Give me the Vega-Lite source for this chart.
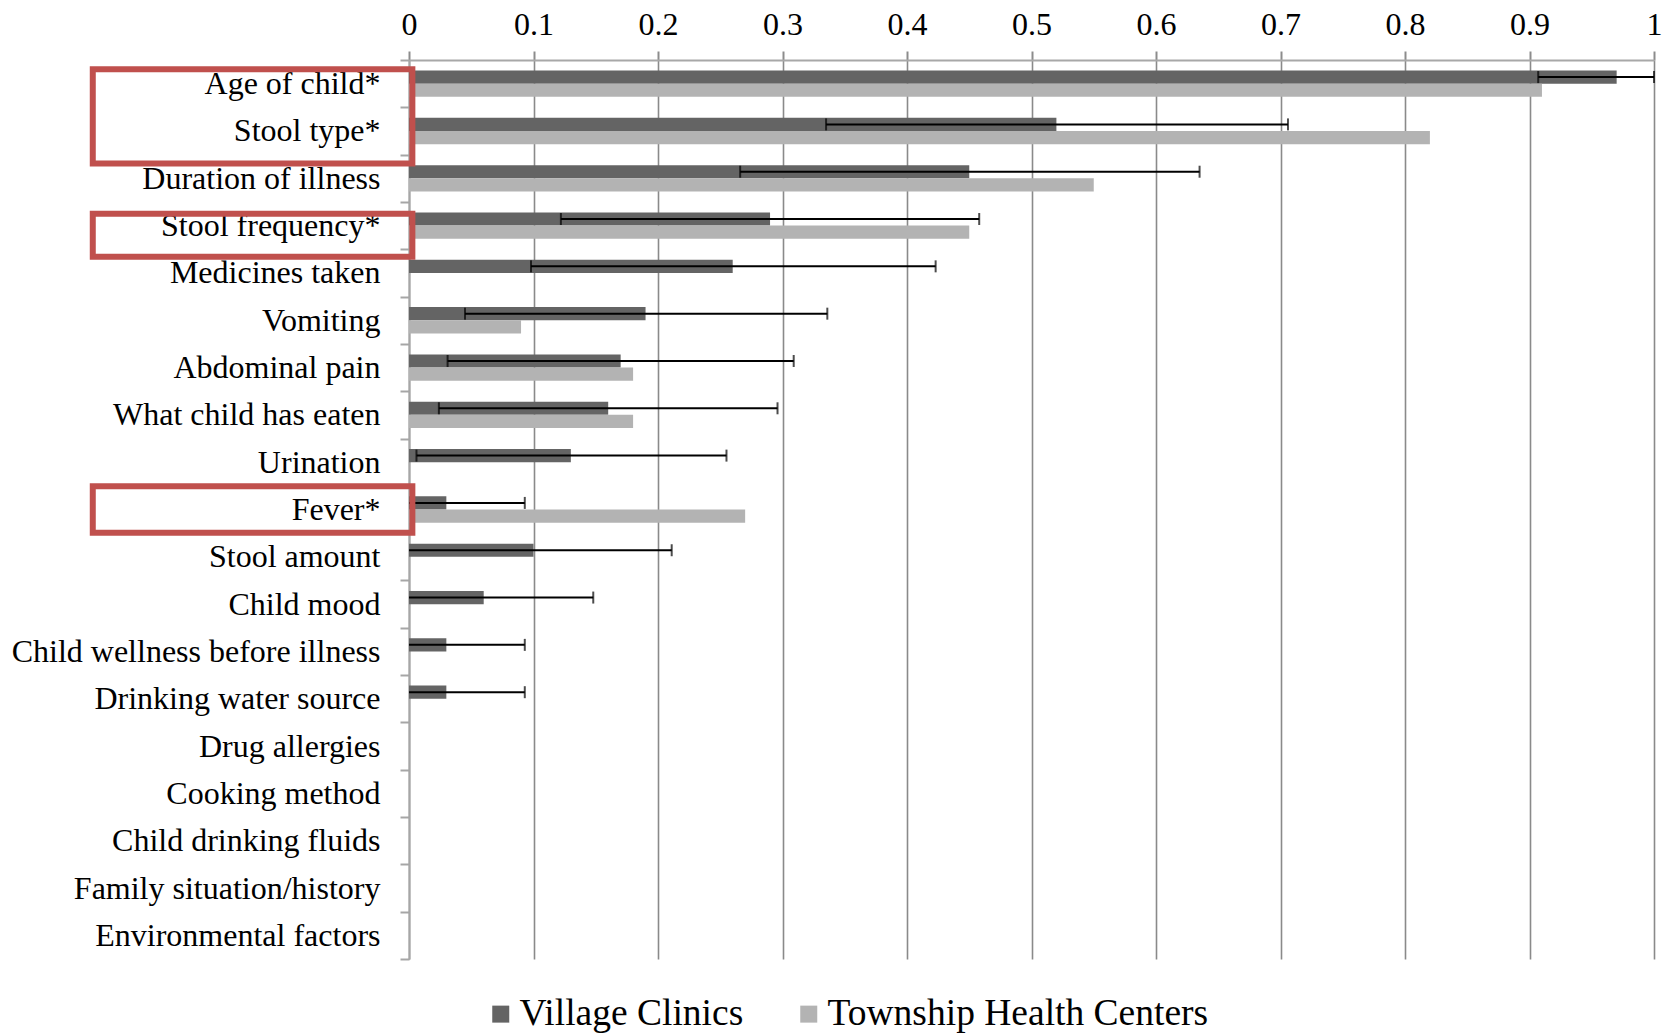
{
  "$schema": "https://vega.github.io/schema/vega-lite/v6.json",
  "width": 1245,
  "height": 899,
  "autosize": {"type": "none"},
  "padding": {"left": 409, "top": 60, "right": 19, "bottom": 75},
  "config": {"font": "Liberation Serif", "view": {"stroke": null}},
  "datasets": {
    "bars": [
      {"cat": "Age of child*", "series": "Village Clinics", "value": 0.97, "lo": 0.907, "hi": 1.0},
      {"cat": "Stool type*", "series": "Village Clinics", "value": 0.52, "lo": 0.335, "hi": 0.706},
      {"cat": "Duration of illness", "series": "Village Clinics", "value": 0.45, "lo": 0.266, "hi": 0.635},
      {"cat": "Stool frequency*", "series": "Village Clinics", "value": 0.29, "lo": 0.122, "hi": 0.458},
      {"cat": "Medicines taken", "series": "Village Clinics", "value": 0.26, "lo": 0.098, "hi": 0.423},
      {"cat": "Vomiting", "series": "Village Clinics", "value": 0.19, "lo": 0.045, "hi": 0.336},
      {"cat": "Abdominal pain", "series": "Village Clinics", "value": 0.17, "lo": 0.031, "hi": 0.309},
      {"cat": "What child has eaten", "series": "Village Clinics", "value": 0.16, "lo": 0.024, "hi": 0.296},
      {"cat": "Urination", "series": "Village Clinics", "value": 0.13, "lo": 0.006, "hi": 0.255},
      {"cat": "Fever*", "series": "Village Clinics", "value": 0.03, "lo": 0, "hi": 0.093},
      {"cat": "Stool amount", "series": "Village Clinics", "value": 0.10, "lo": 0, "hi": 0.211},
      {"cat": "Child mood", "series": "Village Clinics", "value": 0.06, "lo": 0, "hi": 0.148},
      {"cat": "Child wellness before illness", "series": "Village Clinics", "value": 0.03, "lo": 0, "hi": 0.093},
      {"cat": "Drinking water source", "series": "Village Clinics", "value": 0.03, "lo": 0, "hi": 0.093},
      {"cat": "Drug allergies", "series": "Village Clinics", "value": 0},
      {"cat": "Cooking method", "series": "Village Clinics", "value": 0},
      {"cat": "Child drinking fluids", "series": "Village Clinics", "value": 0},
      {"cat": "Family situation/history", "series": "Village Clinics", "value": 0},
      {"cat": "Environmental factors", "series": "Village Clinics", "value": 0},
      {"cat": "Age of child*", "series": "Township Health Centers", "value": 0.91},
      {"cat": "Stool type*", "series": "Township Health Centers", "value": 0.82},
      {"cat": "Duration of illness", "series": "Township Health Centers", "value": 0.55},
      {"cat": "Stool frequency*", "series": "Township Health Centers", "value": 0.45},
      {"cat": "Medicines taken", "series": "Township Health Centers", "value": 0},
      {"cat": "Vomiting", "series": "Township Health Centers", "value": 0.09},
      {"cat": "Abdominal pain", "series": "Township Health Centers", "value": 0.18},
      {"cat": "What child has eaten", "series": "Township Health Centers", "value": 0.18},
      {"cat": "Urination", "series": "Township Health Centers", "value": 0},
      {"cat": "Fever*", "series": "Township Health Centers", "value": 0.27},
      {"cat": "Stool amount", "series": "Township Health Centers", "value": 0},
      {"cat": "Child mood", "series": "Township Health Centers", "value": 0},
      {"cat": "Child wellness before illness", "series": "Township Health Centers", "value": 0},
      {"cat": "Drinking water source", "series": "Township Health Centers", "value": 0},
      {"cat": "Drug allergies", "series": "Township Health Centers", "value": 0},
      {"cat": "Cooking method", "series": "Township Health Centers", "value": 0},
      {"cat": "Child drinking fluids", "series": "Township Health Centers", "value": 0},
      {"cat": "Family situation/history", "series": "Township Health Centers", "value": 0},
      {"cat": "Environmental factors", "series": "Township Health Centers", "value": 0}
    ],
    "boxes": [
      {"x0": -0.254, "x1": 0.0027, "y0": 0.195, "y1": 2.19},
      {"x0": -0.254, "x1": 0.0027, "y0": 3.25, "y1": 4.16},
      {"x0": -0.254, "x1": 0.0027, "y0": 9.01, "y1": 9.99}
    ]
  },
  "layer": [
    {
      "layer": [
        {
          "data": {"name": "bars"},
          "mark": {"type": "bar"},
          "encoding": {
            "y": {
              "field": "cat", "type": "nominal", "sort": null,
              "scale": {"paddingInner": 0, "paddingOuter": 0},
              "axis": {
                "title": null, "orient": "left", "labelFontSize": 32, "labelColor": "#000000",
                "labelFont": "Liberation Serif", "labelPadding": 20, "labelLimit": 0,
                "tickBand": "extent", "tickSize": 9, "tickColor": "#a6a6a6", "tickWidth": 2,
                "domainColor": "#a6a6a6", "domainWidth": 2, "grid": false
              }
            },
            "yOffset": {
              "field": "series", "type": "nominal",
              "sort": ["Village Clinics", "Township Health Centers"],
              "scale": {"paddingInner": 0, "paddingOuter": 0.7985}
            },
            "x": {
              "field": "value", "type": "quantitative", "title": null,
              "scale": {"domain": [0, 1], "nice": false, "zero": true},
              "axis": {
                "title": null, "orient": "top", "values": [0, 0.1, 0.2, 0.3, 0.4, 0.5, 0.6, 0.7, 0.8, 0.9, 1],
                "format": "~g", "labelFontSize": 32, "labelColor": "#000000", "labelFont": "Liberation Serif",
                "labelPadding": 10, "tickSize": 9, "tickColor": "#8c8c8c", "tickWidth": 2,
                "domainColor": "#a8a8a8", "domainWidth": 2,
                "grid": true, "gridColor": "#8a8a8a", "gridWidth": 1.6, "gridOpacity": 1,
                "labelFlush": false
              }
            },
            "color": {
              "field": "series", "type": "nominal",
              "sort": ["Village Clinics", "Township Health Centers"],
              "scale": {"domain": ["Village Clinics", "Township Health Centers"], "range": ["#646464", "#b3b3b3"]},
              "legend": {
                "title": null, "orient": "none", "direction": "horizontal",
                "legendX": 73, "legendY": 935,
                "symbolType": "square", "symbolSize": 289, "symbolStrokeWidth": 0,
                "labelFontSize": 37.5, "labelFont": "Liberation Serif", "labelColor": "#000000",
                "labelOffset": 0, "columnPadding": 46, "labelLimit": 0
              }
            }
          }
        },
        {
          "data": {"name": "bars"},
          "mark": {"type": "rule", "color": "#000000", "strokeWidth": 2},
          "encoding": {
            "y": {"field": "cat", "type": "nominal", "sort": null},
            "yOffset": {"field": "series", "type": "nominal", "sort": ["Village Clinics", "Township Health Centers"]},
            "x": {"field": "lo", "type": "quantitative", "title": null},
            "x2": {"field": "hi"}
          }
        },
        {
          "data": {"name": "bars"},
          "mark": {"type": "tick", "orient": "vertical", "color": "#000000", "thickness": 2, "size": 12},
          "encoding": {
            "y": {"field": "cat", "type": "nominal", "sort": null},
            "yOffset": {"field": "series", "type": "nominal", "sort": ["Village Clinics", "Township Health Centers"]},
            "x": {"field": "hi", "type": "quantitative", "title": null}
          }
        },
        {
          "data": {"name": "bars"},
          "transform": [{"filter": "datum.lo > 0"}],
          "mark": {"type": "tick", "orient": "vertical", "color": "#000000", "thickness": 2, "size": 12},
          "encoding": {
            "y": {"field": "cat", "type": "nominal", "sort": null},
            "yOffset": {"field": "series", "type": "nominal", "sort": ["Village Clinics", "Township Health Centers"]},
            "x": {"field": "lo", "type": "quantitative", "title": null}
          }
        }
      ]
    },
    {
      "data": {"name": "boxes"},
      "mark": {"type": "rect", "filled": false, "stroke": "#c0504d", "strokeWidth": 6, "clip": false},
      "encoding": {
        "x": {"field": "x0", "type": "quantitative", "title": null},
        "x2": {"field": "x1"},
        "y": {"field": "y0", "type": "quantitative", "axis": null,
              "scale": {"domain": [0, 19], "reverse": true, "nice": false, "zero": false}},
        "y2": {"field": "y1"}
      }
    }
  ],
  "resolve": {"scale": {"y": "independent"}}
}
